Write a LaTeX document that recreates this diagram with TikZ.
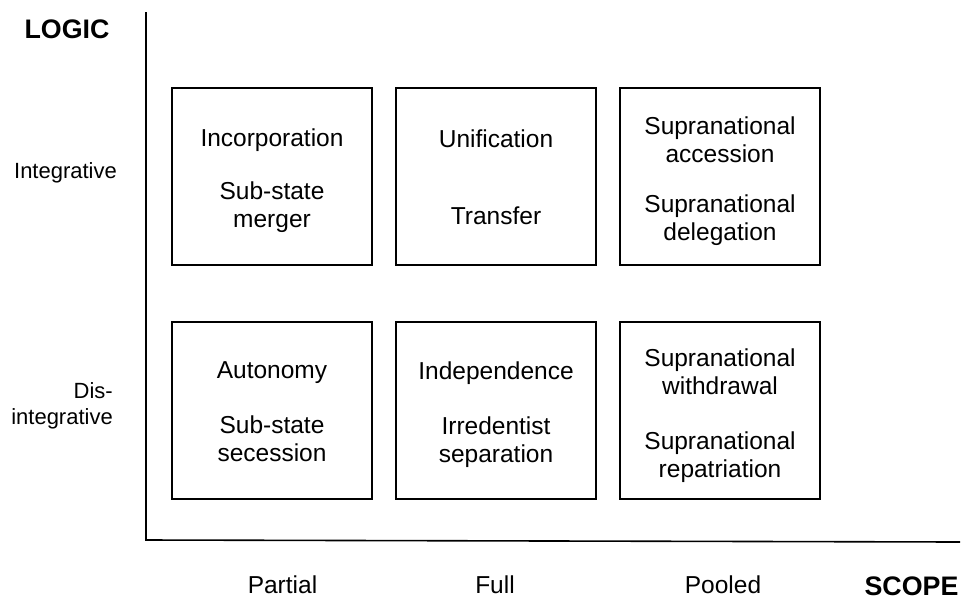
\documentclass[tikz,border=0pt]{standalone}
\usepackage{fontspec}
\setmainfont{Liberation Sans}
\begin{document}
\begin{tikzpicture}[x=1pt,y=-1pt,
  cell/.style={draw, line width=1.3pt, minimum width=200pt, minimum height=177pt, inner sep=0pt},
  celltext/.style={inner sep=0pt, align=center, font=\fontsize{24.5}{28}\selectfont},
  side/.style={inner sep=0pt, font=\fontsize{22}{26}\selectfont},
  scopelab/.style={inner sep=0pt, anchor=base, font=\fontsize{24.5}{28}\selectfont},
  title/.style={inner sep=0pt, anchor=base, font=\fontsize{26.8}{30}\selectfont\bfseries},
  axis/.style={line width=1.6pt, line join=miter}]
\useasboundingbox (0,0) rectangle (966,600);
% axes
\coordinate (ytop) at (146,12);
\coordinate (origin) at (146,540);
\coordinate (xend) at (960,542);
\draw[axis] (ytop) -- (origin) -- (xend);
% titles
\node[title] (logic) at (67,38) {LOGIC};
\node[title] (scope) at (911.5,595) {SCOPE};
% row labels
\node[side, anchor=base] (integ) at (65.5,178) {Integrative};
\node[side, align=right, anchor=east] (disinteg) at (113,405.5) {Dis-\\integrative};
% column labels
\node[scopelab] (partial) at (282.5,593) {Partial};
\node[scopelab] (full) at (495,593) {Full};
\node[scopelab] (pooled) at (723,593) {Pooled};
% cells
\node[cell] (b11) at (272,176.5) {};
\node[cell] (b12) at (496,176.5) {};
\node[cell] (b13) at (720,176.5) {};
\node[cell] (b21) at (272,410.5) {};
\node[cell] (b22) at (496,410.5) {};
\node[cell] (b23) at (720,410.5) {};
% cell texts
\node[celltext, yshift=-4pt] (t11) at (b11.center) {Incorporation\\[25pt]Sub-state\\merger};
\node[celltext, yshift=-1pt] (t12) at (b12.center) {Unification\\[49pt]Transfer};
\node[celltext, yshift=-5pt] (t13) at (b13.center) {Supranational\\accession\\[22pt]Supranational\\delegation};
\node[celltext, yshift=-1pt] (t21) at (b21.center) {Autonomy\\[27pt]Sub-state\\secession};
\node[celltext, yshift=-4pt] (t22) at (b22.center) {Independence\\[27pt]Irredentist\\separation};
\node[celltext, yshift=-5pt] (t23) at (b23.center) {Supranational\\withdrawal\\[27pt]Supranational\\repatriation};
\end{tikzpicture}
\end{document}
